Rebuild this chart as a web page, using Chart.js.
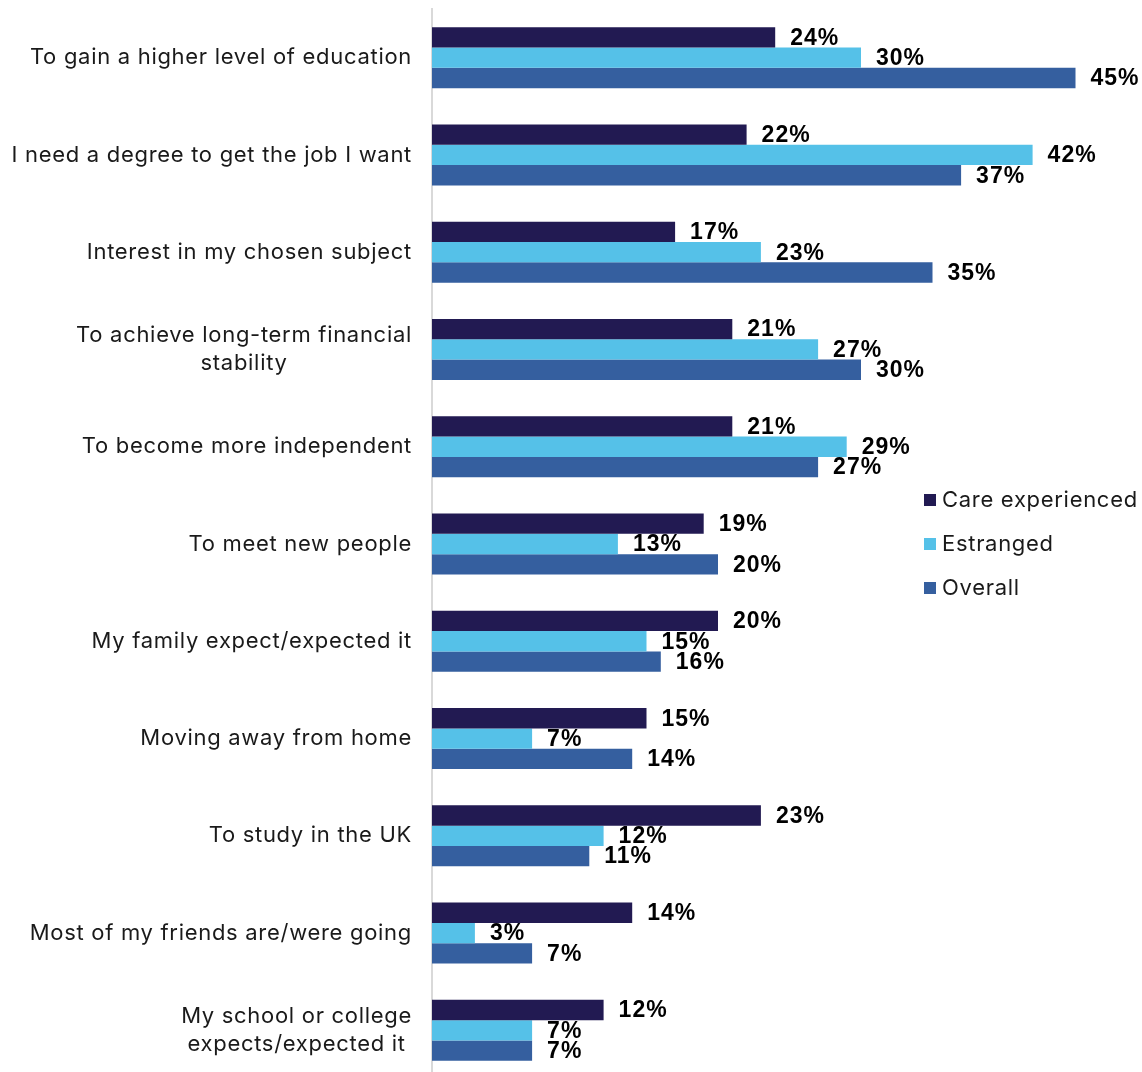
<!DOCTYPE html>
<html>
<head>
<meta charset="utf-8">
<script src="https://cdn.jsdelivr.net/npm/chart.js@4/dist/chart.umd.min.js"></script>
<style>
  html, body { margin: 0; padding: 0; background: #fff; overflow: hidden; }
  #wrap { position: relative; width: 1147px; height: 1079px; }
</style>
</head>
<body>
<div id="wrap"><canvas id="reasonsChart"></canvas></div>
<script>
// Reasons for going to university, % of respondents per group
const categories = [
  'To gain a higher level of education',
  'I need a degree to get the job I want',
  'Interest in my chosen subject',
  ['To achieve long-term financial', 'stability'],
  'To become more independent',
  'To meet new people',
  'My family expect/expected it',
  'Moving away from home',
  'To study in the UK',
  'Most of my friends are/were going',
  ['My school or college', 'expects/expected it']
];
const seriesNames = ['Care experienced', 'Estranged', 'Overall'];
const careExperienced = [24, 22, 17, 21, 21, 19, 20, 15, 23, 14, 12];
const estranged = [30, 42, 23, 27, 29, 13, 15, 7, 12, 3, 7];
const overall = [45, 37, 35, 30, 27, 20, 16, 14, 11, 7, 7];
const seriesColors = ['#221a52', '#55c1e8', '#355f9f'];

const labelFont = '22px Inter, "Noto Sans", sans-serif';
const labelSpacing = '0.7px';
const valueFont = 'bold 23px "Liberation Sans", Arial, sans-serif';
const valueSpacing = '1px';

// Category labels: right aligned block, lines centred inside the block
const categoryLabels = {
  id: 'categoryLabels',
  afterDraw(chart) {
    const ctx = chart.ctx;
    const yScale = chart.scales.y;
    const right = chart.chartArea.left - 20;
    ctx.save();
    ctx.font = labelFont;
    ctx.letterSpacing = labelSpacing;
    ctx.fillStyle = '#1a1a1a';
    ctx.textBaseline = 'middle';
    ctx.textAlign = 'left';
    categories.forEach((label, i) => {
      const lines = Array.isArray(label) ? label : [label];
      const widths = lines.map(l => ctx.measureText(l).width);
      const widest = Math.max(...widths);
      const cx = right - widest / 2;
      const lineHeight = 28;
      const yc = yScale.getPixelForTick(i);
      lines.forEach((line, j) => {
        const y = yc + (j - (lines.length - 1) / 2) * lineHeight;
        ctx.fillText(line, cx - widths[j] / 2, y);
      });
    });
    ctx.restore();
  }
};

// Value labels at the end of each bar
const valueLabels = {
  id: 'valueLabels',
  afterDatasetsDraw(chart) {
    const ctx = chart.ctx;
    ctx.save();
    ctx.font = valueFont;
    ctx.letterSpacing = valueSpacing;
    ctx.fillStyle = '#000';
    ctx.textBaseline = 'middle';
    ctx.textAlign = 'left';
    chart.data.datasets.forEach((ds, di) => {
      chart.getDatasetMeta(di).data.forEach((bar, i) => {
        ctx.fillText(ds.data[i] + '%', bar.x + 15, bar.y + 1);
      });
    });
    ctx.restore();
  }
};

// Legend drawn inside the plot area on the right
const insideLegend = {
  id: 'insideLegend',
  afterDraw(chart) {
    const ctx = chart.ctx;
    const x = 924, y0 = 500, step = 44, box = 12;
    ctx.save();
    ctx.font = labelFont;
    ctx.letterSpacing = labelSpacing;
    ctx.textBaseline = 'middle';
    ctx.textAlign = 'left';
    chart.data.datasets.forEach((ds, i) => {
      const y = y0 + i * step;
      ctx.fillStyle = ds.backgroundColor;
      ctx.fillRect(x, y - box / 2, box, box);
      ctx.fillStyle = '#1a1a1a';
      ctx.fillText(ds.label, x + box + 6, y);
    });
    ctx.restore();
  }
};

new Chart(document.getElementById('reasonsChart'), {
  type: 'bar',
  data: {
    labels: categories,
    datasets: [
      { label: seriesNames[0], data: careExperienced, backgroundColor: seriesColors[0] },
      { label: seriesNames[1], data: estranged, backgroundColor: seriesColors[1] },
      { label: seriesNames[2], data: overall, backgroundColor: seriesColors[2] }
    ]
  },
  options: {
    indexAxis: 'y',
    responsive: true,
    maintainAspectRatio: false,
    animation: false,
    layout: { padding: { top: 9, bottom: 0, right: 0, left: 0 } },
    datasets: {
      bar: { categoryPercentage: 0.627, barPercentage: 1 }
    },
    scales: {
      x: {
        display: false,
        min: 0,
        max: 50
      },
      y: {
        grid: { display: false },
        border: { display: true, color: '#d9d9d9', width: 2 },
        ticks: { display: false },
        afterFit(scale) { scale.width = 432; }
      }
    },
    plugins: {
      legend: { display: false },
      tooltip: { enabled: false }
    }
  },
  plugins: [categoryLabels, valueLabels, insideLegend]
});
</script>
</body>
</html>
